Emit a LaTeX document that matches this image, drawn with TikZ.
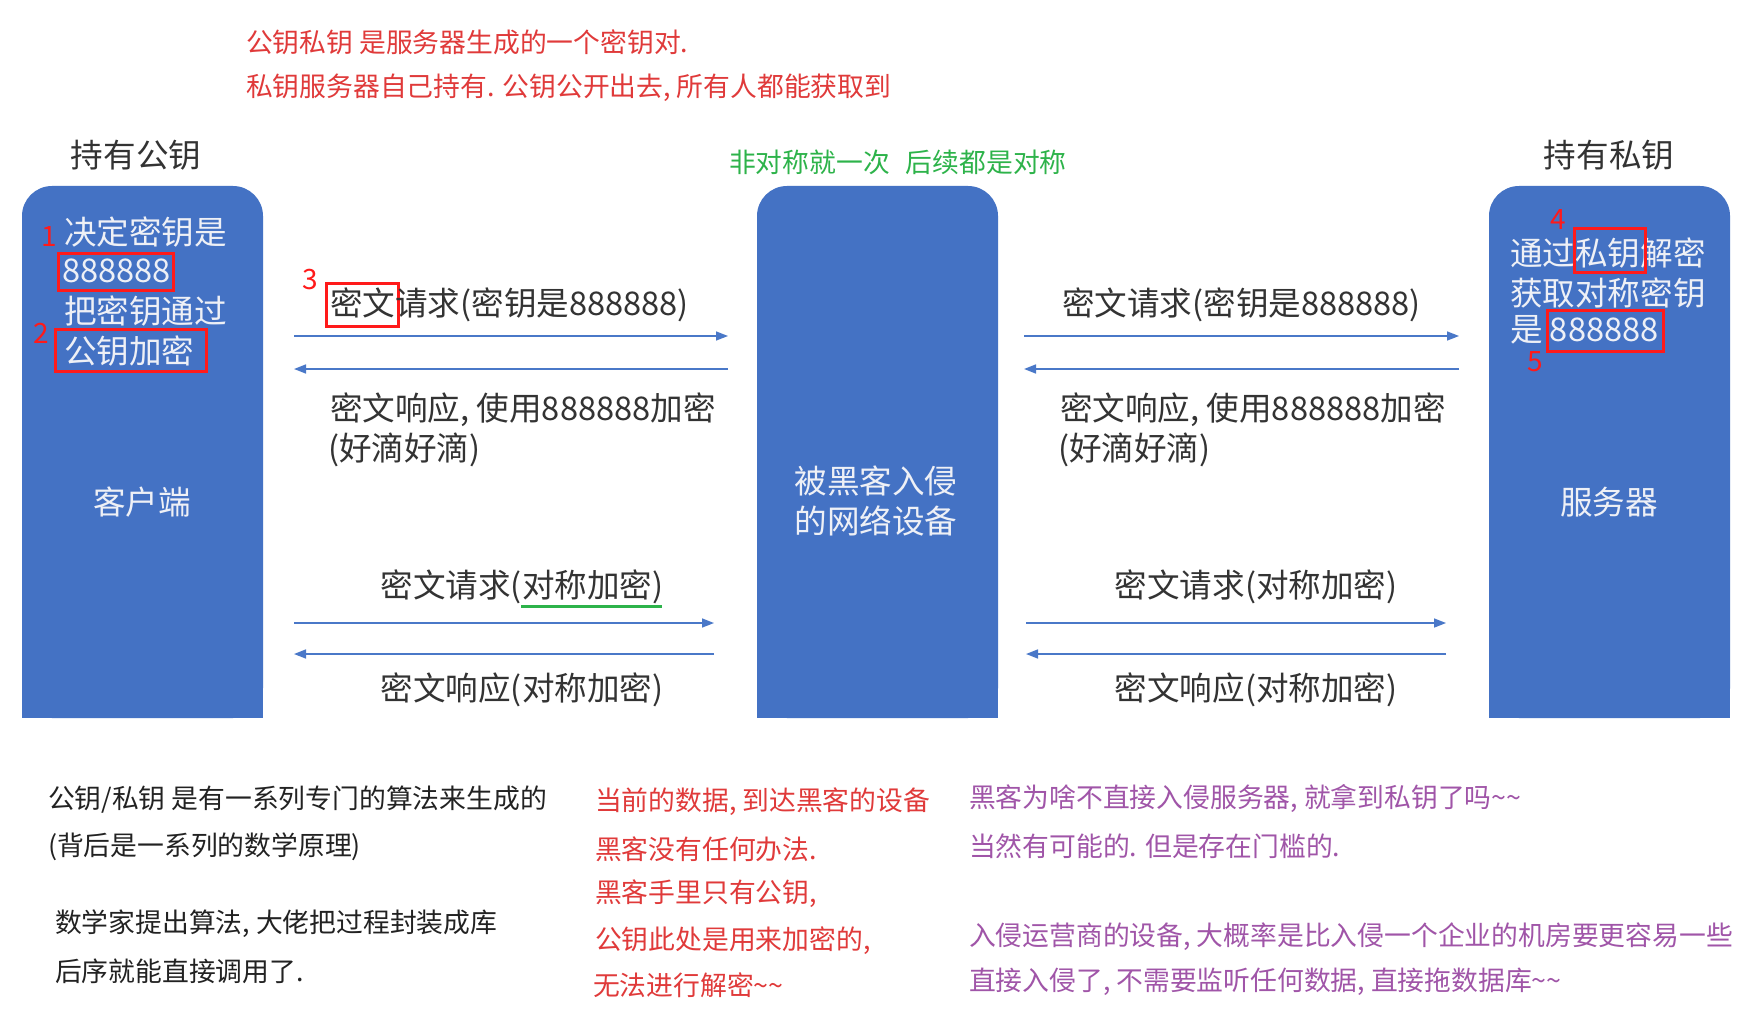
\documentclass[tikz,border=0pt]{standalone}
\usepackage{fontspec}
\setmainfont{Noto Sans CJK SC}
\usetikzlibrary{arrows.meta}
\definecolor{boxblue}{HTML}{4472C4}
\definecolor{arrowblue}{HTML}{4A78C8}
\definecolor{boxtext}{HTML}{EEF0F6}
\definecolor{darktext}{HTML}{333333}
\definecolor{notered}{HTML}{E03A3A}
\definecolor{markred}{HTML}{FF1A1A}
\definecolor{notegreen}{HTML}{2DB34A}
\definecolor{notepurple}{HTML}{A055A8}
\definecolor{noteblack}{HTML}{222222}
\begin{document}
\begin{tikzpicture}[x=0.5pt,y=-0.5pt,
  every node/.style={inner sep=0pt, outer sep=0pt},
  panel/.style={fill=boxblue, rounded corners=15pt, anchor=north west, minimum width=120.5pt, minimum height=266pt},
  maintext/.style={font=\fontsize{16.3pt}{20pt}\selectfont, text=darktext},
  intext/.style={font=\fontsize{16.3pt}{20pt}\selectfont, text=boxtext},
  note/.style={font=\fontsize{13.4pt}{16pt}\selectfont, anchor=west},
  num/.style={font=\fontsize{14pt}{16pt}\selectfont, text=markred},
  redmark/.style={draw=markred, line width=1.5pt},
  flow/.style={draw=arrowblue, line width=0.8pt, -{Triangle[length=6pt,width=4.5pt]}}]
\useasboundingbox[fill=white] (0,0) rectangle (1738,1027);

% top notes
\node[note, text=notered] (n1) at (246,42) {公钥私钥 是服务器生成的一个密钥对.};
\node[note, text=notered] (n2) at (246,88) {私钥服务器自己持有. 公钥公开出去, 所有人都能获取到};
\node[note, text=notegreen] (n3) at (729,162) {非对称就一次\hspace{0.6em}后续都是对称};

% titles
\node[maintext] (t1) at (136,155) {持有公钥};
\node[maintext] (t2) at (1609,155) {持有私钥};

% panels
\node[panel] (client) at (22,186) {};
\fill[boxblue] (client.west) rectangle (client.south east);
\node[panel] (hacker) at (757,186) {};
\fill[boxblue] (hacker.west) rectangle (hacker.south east);
\node[panel] (server) at (1489,186) {};
\fill[boxblue] (server.west) rectangle (server.south east);

% client text
\node[intext, anchor=west] (c1) at (64,232) {决定密钥是};
\node[intext, anchor=west] (c2) at (62,271) {888888};
\node[intext, anchor=west] (c3) at (64,311) {把密钥通过};
\node[intext, anchor=west] (c4) at (64,351) {公钥加密};
\node[intext] (c5) at (142,502) {客户端};

% hacker text
\node[intext, align=center] (h1) at (876,501) {被黑客入侵\\的网络设备};

% server text
\node[intext, anchor=west] (s1) at (1510,253) {通过私钥解密};
\node[intext, anchor=west] (s2) at (1510,293) {获取对称密钥};
\node[intext, anchor=west] (s3) at (1510,330) {是 888888};
\node[intext] (s4) at (1609,502) {服务器};

% red marks
\draw[redmark] (58,253) rectangle (173,290);
\node[num] (k1) at (49,237) {1};
\draw[redmark] (55,329) rectangle (206,371);
\node[num] (k2) at (41,333) {2};
\draw[redmark] (326,283) rectangle (398,326);
\node[num] (k3) at (310,280) {3};
\draw[redmark] (1574,229) rectangle (1645,272);
\node[num] (k4) at (1558,220) {4};
\draw[redmark] (1547,310) rectangle (1663,351);
\node[num] (k5) at (1535,362) {5};

% left messages
\node[maintext, anchor=west] (m1) at (330,305) {密文请求(密钥是888888)};
\node[maintext, anchor=west] (m2) at (330,410) {密文响应, 使用888888加密};
\node[maintext, anchor=west] (m3) at (328,450) {(好滴好滴)};
\node[maintext] (m4) at (522,587) {密文请求(对称加密)};
\node[maintext] (m5) at (522,690) {密文响应(对称加密)};
\draw[draw=notegreen, line width=1.5pt] (521,606) -- (662,606);

% right messages
\node[maintext, anchor=west] (r1) at (1062,305) {密文请求(密钥是888888)};
\node[maintext, anchor=west] (r2) at (1060,410) {密文响应, 使用888888加密};
\node[maintext, anchor=west] (r3) at (1058,450) {(好滴好滴)};
\node[maintext] (r4) at (1256,587) {密文请求(对称加密)};
\node[maintext] (r5) at (1256,690) {密文响应(对称加密)};

% arrows
\coordinate (a1s) at (294,336); \coordinate (a1e) at (728,336);
\coordinate (a2s) at (728,369); \coordinate (a2e) at (294,369);
\coordinate (a3s) at (294,623); \coordinate (a3e) at (714,623);
\coordinate (a4s) at (714,654); \coordinate (a4e) at (294,654);
\coordinate (b1s) at (1024,336); \coordinate (b1e) at (1459,336);
\coordinate (b2s) at (1459,369); \coordinate (b2e) at (1024,369);
\coordinate (b3s) at (1026,623); \coordinate (b3e) at (1446,623);
\coordinate (b4s) at (1446,654); \coordinate (b4e) at (1026,654);
\draw[flow] (a1s) -- (a1e);
\draw[flow] (a2s) -- (a2e);
\draw[flow] (a3s) -- (a3e);
\draw[flow] (a4s) -- (a4e);
\draw[flow] (b1s) -- (b1e);
\draw[flow] (b2s) -- (b2e);
\draw[flow] (b3s) -- (b3e);
\draw[flow] (b4s) -- (b4e);

% bottom notes
\node[note, text=noteblack] (p1) at (48,800) {公钥/私钥 是有一系列专门的算法来生成的};
\node[note, text=noteblack] (p2) at (48,847) {(背后是一系列的数学原理)};
\node[note, text=noteblack] (p3) at (55,924) {数学家提出算法, 大佬把过程封装成库};
\node[note, text=noteblack] (p4) at (55,971) {后序就能直接调用了.};

\node[note, text=notered] (q1) at (595,802) {当前的数据, 到达黑客的设备};
\node[note, text=notered] (q2) at (595,849) {黑客没有任何办法.};
\node[note, text=notered] (q3) at (595,894) {黑客手里只有公钥,};
\node[note, text=notered] (q4) at (595,941) {公钥此处是用来加密的,};
\node[note, text=notered] (q5) at (593,985) {无法进行解密\textasciitilde\textasciitilde};

\node[note, text=notepurple] (u1) at (969,799) {黑客为啥不直接入侵服务器, 就拿到私钥了吗\textasciitilde\textasciitilde};
\node[note, text=notepurple] (u2) at (969,846) {当然有可能的. 但是存在门槛的.};
\node[note, text=notepurple] (u3) at (969,937) {入侵运营商的设备, 大概率是比入侵一个企业的机房要更容易一些};
\node[note, text=notepurple] (u4) at (969,982) {直接入侵了, 不需要监听任何数据, 直接拖数据库\textasciitilde\textasciitilde};
\end{tikzpicture}
\end{document}
